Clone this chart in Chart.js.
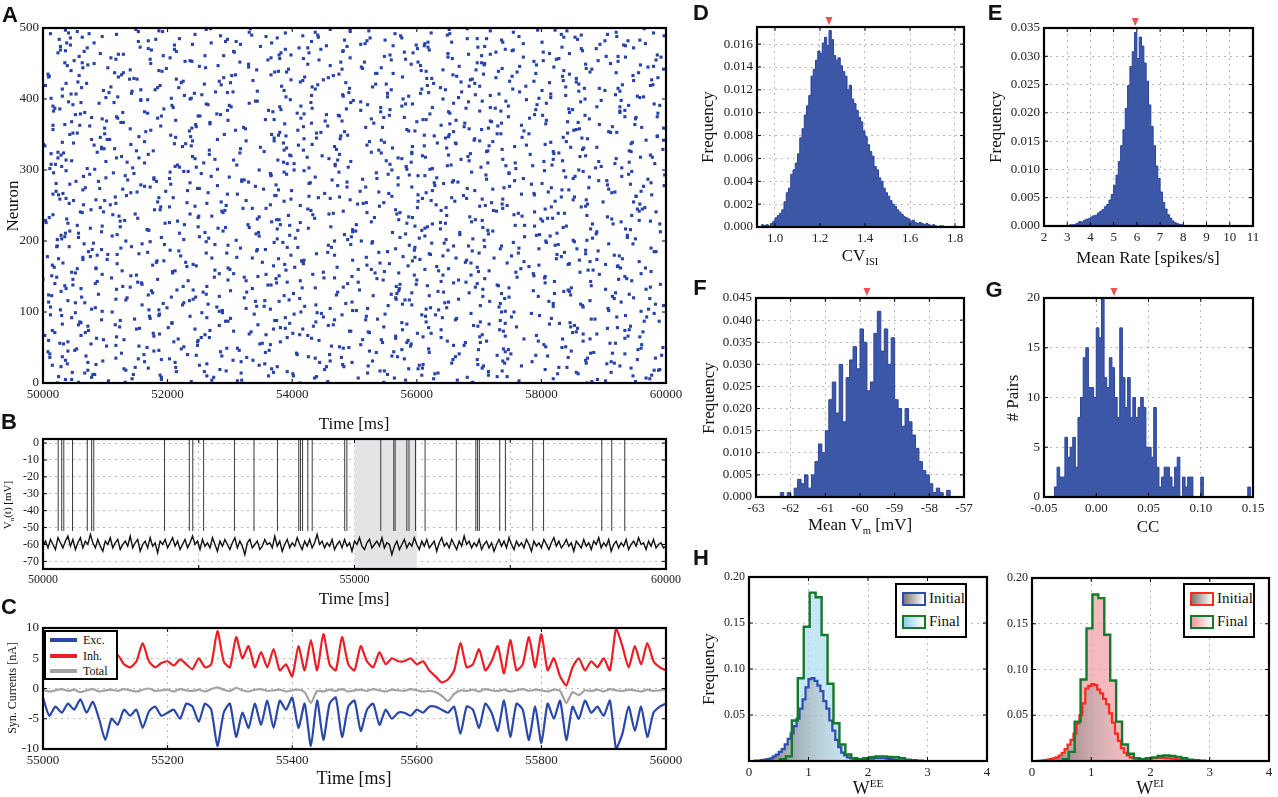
<!DOCTYPE html>
<html>
<head>
<meta charset="utf-8">
<script src="https://cdn.jsdelivr.net/npm/chart.js@4.4.1/dist/chart.umd.min.js"></script>
<style>
body { margin: 0; background: #fff; }
#fig { position: relative; width: 1278px; height: 797px; overflow: hidden; font-family: 'Liberation Serif', 'DejaVu Serif', serif; color: #111; }
#fig canvas { position: absolute; }
.lbl { position: absolute; white-space: nowrap; transform: translate(-50%, -50%); line-height: 1; }
.rot { transform: translate(-50%, -50%) rotate(-90deg); }
.lbl sub, .lbl sup { font-size: 62%; }
.letter { position: absolute; font-family: 'Liberation Sans', 'DejaVu Sans', sans-serif; font-weight: bold; font-size: 22px; transform: translate(-50%, -50%); line-height: 1; }
.legend { position: absolute; border: 2px solid #000; background: #fff; box-sizing: border-box; }
.legend .sw { position: absolute; box-sizing: border-box; }
.legend .tx { position: absolute; white-space: nowrap; line-height: 1; }
</style>
</head>
<body>
<div id="fig"></div>
<script>
// ---- data ----

// A: raster, spikes per neuron row, in 10 ms bins after 50000 ms
const rasterStartMs = 50000;
const rasterBinMs = 10;
const rasterSpikeBins = [
[412,873],[57,690],[238,951],[764,105],[319,582],[890,46],[143,627],[506,968],[681,274],[25,439],
[947,362],[188,715],[553,80],[826,401],[67,634],[370,912],[715,259],[294,548],[981,133],[452,806],
[130,587],[609,944],[841,213],[376,29],[522,768],[15,347],[698,481],[263,905],[917,656],[444,72],
[785,318],[96,529],[337,871],[658,190],[203,746],[874,437],[479,11],[31,662],[560,287],[729,993],
[162,408],[934,751],[407,126],[620,884],[285,563],[848,40],[51,315],[576,699],[739,222],[312,960],
[995,491],[226,807],[463,154],[117,676],[804,365],[591,33],[352,919],[678,545],[40,248],[867,712],
[249,586],[513,97],[772,834],[86,431],[639,267],[958,610],[178,742],[425,3],[705,358],[331,889],
[601,177],[19,524],[856,963],[494,306],[268,73],[733,639],[150,417],[389,858],[922,201],[547,760],
[72,943],[691,458],[345,116],[813,584],[207,829],[576,61],[438,702],[965,293],[124,375],[662,518],
[880,147],[301,664],[46,389],[752,921],[519,236],[186,797],[630,12],[403,549],[981,687],[255,440],
[111,756],[742,283],[497,908],[28,170],[365,615],[907,461],[622,84],[279,732],[819,355],[554,996],
[438,224],[863,577],[193,819],[645,52],[9,496],[717,341],[356,878],[588,133],[241,667],[974,412],
[323,948],[62,245],[795,706],[530,387],[169,9],[941,559],[402,821],[684,176],[257,473],[836,634],
[571,301],[215,843],[903,118],[37,572],[748,416],[482,975],[128,263],[617,731],[366,48],[991,599],
[84,697],[659,158],[392,506],[821,879],[233,326],[546,667],[0,184],[709,937],[468,451],[275,22],
[934,806],[141,379],[596,642],[358,95],[787,283],[52,533],[450,862],[699,208],[212,716],[875,390],
[506,613],[767,55],[297,927],[18,404],[632,780],[923,246],[176,520],[388,843],[845,119],[541,687],
[229,352],[957,772],[415,194],[680,497],[103,889],[824,25],[336,663],[597,311],[7,578],[752,925],
[468,87],[119,622],[871,439],[262,763],[539,168],[984,553],[343,891],[650,204],[79,357],[796,734],
[317,976],[597,409],[42,142],[736,683],[458,297],[195,827],[908,66],[624,528],[371,755],[853,262],
[133,468],[708,851],[489,23],[951,376],[266,604],[573,938],[35,251],[814,111],[396,792],[669,484],
[888,715],[219,57],[561,346],[94,889],[722,502],[409,170],[167,943],[935,638],[613,281],[293,835],
[462,124],[789,597],[55,773],[381,329],[915,882],[646,40],[203,413],[527,688],[975,216],[131,957],
[694,375],[344,799],[818,152],[10,532],[587,906],[250,271],[873,648],[433,16],[148,459],[763,827],
[520,573],[984,97],[287,728],[639,430],[77,188],[806,962],[358,336],[966,601],[189,864],[701,244],
[413,710],[65,365],[737,958],[514,117],[231,547],[899,286],[602,822],[326,49],[851,493],[27,738],
[680,609],[442,186],[116,853],[952,427],[374,675],[789,25],[16,312],[555,788],[265,141],[918,539],
[197,960],[625,399],[833,64],[354,722],[91,251],[740,876],[488,518],[964,163],[280,629],[570,906],
[43,205],[801,643],[429,976],[657,330],[182,89],[905,757],[323,464],[712,178],[536,851],[101,570],
[877,299],[270,854],[613,132],[998,588],[391,940],[146,365],[748,17],[475,688],[226,233],[836,805],
[347,560],[584,83],[71,759],[929,427],[490,219],[212,896],[786,649],[655,311],[13,469],[403,982],
[758,163],[135,591],[892,804],[551,46],[306,377],[671,738],[459,920],[24,118],[978,614],[240,862],
[609,448],[396,975],[169,267],[820,686],[543,33],[87,527],[712,819],[941,150],[267,387],[471,737],
[115,94],[868,561],[349,889],[593,224],[3,716],[776,410],[432,141],[211,944],[662,633],[946,31],
[524,840],[240,326],[996,692],[78,107],[693,477],[371,865],[835,213],[154,651],[478,986],[612,378],
[291,43],[735,780],[48,439],[446,921],[908,165],[597,587],[173,309],[856,704],[325,861],[715,99],
[961,518],[418,246],[189,730],[639,59],[35,950],[807,388],[531,677],[268,125],[720,842],[102,480],
[663,297],[357,610],[877,951],[120,414],[580,78],[986,747],[252,190],[474,870],[789,455],[60,279],
[408,653],[926,128],[163,542],[701,926],[296,362],[557,791],[844,27],[19,679],[625,209],[380,889],
[747,414],[207,990],[521,265],[981,593],[90,808],[430,61],[683,510],[344,743],[896,157],[157,397],
[578,870],[13,238],[815,667],[390,120],[954,482],[227,718],[481,919],[732,45],[142,553],[619,296],
[305,765],[860,344],[97,902],[646,180],[437,608],[893,869],[184,62],[529,432],[775,701],[4,975],
[930,286],[259,551],[693,37],[486,813],[56,671],[749,225],[337,948],[977,450],[214,139],[616,624],
[458,987],[121,420],[834,753],[303,58],[658,309],[8,845],[562,534],[920,115],[391,761],[731,378],
[186,607],[642,140],[394,881],[872,513],[104,261],[511,971],[765,668],[281,39],[959,792],[425,330],
[709,82],[35,704],[602,478],[239,923],[891,236],[443,559],[117,824],[828,380],[366,109],[992,650],
[548,923],[290,193],[986,398],[129,718],[650,845],[382,24],[803,580],[66,306],[482,753],[755,174],
[211,446],[864,888],[411,71],[698,618],[28,349],[562,935],[932,211],[240,510],[613,771],[367,38],
[801,656],[153,310],[520,939],[958,484],[296,181],[681,712],[44,576],[442,836],[764,95],[574,417],
[335,864],[906,244],[74,653],[623,980],[437,331],[192,55],[841,523],[493,794],[262,149],[965,681]
];
// one more spike per neuron (index = neuron)
const rasterExtraA = [
688,132,457,903,271,36,819,564,190,745,402,977,83,629,318,856,214,541,72,990,367,705,148,483,926,
251,610,39,872,496,163,738,305,954,580,117,843,426,69,791,232,668,914,357,8,524,186,747,619,295,
833,476,102,659,961,348,27,584,210,795,443,130,878,566,254,701,939,61,412,187,623,850,334,492,15,
577,244,906,381,123,698,853,466,31,742,207,615,989,372,94,537,816,263,450,171,935,608,339,784,52,
414,960,288,635,78,521,199,867,343,702,159,983,486,226,651,812,40,395,567,917,135,748,283,620,471,
89,736,592,327,845,174,508,968,61,437,694,225,880,361,573,19,806,152,639,413,297,924,536,110,761,
345,14,687,433,960,208,759,548,127,883,300,651,85,472,922,370,796,241,556,32,678,417,183,861,605,
930,271,519,76,642,398,825,154,700,457,981,218,596,344,857,125,463,709,23,588,276,947,644,385,172,
511,873,226,690,405,57,773,347,938,119,582,825,260,497,43,714,168,879,426,331,617,95,758,503,990,
196,638,367,802,4,571,913,436,249,685,122,394,756,568,837,289,60,482,723,179,954,321,647,816,540,
745,108,874,263,519,948,387,623,85,705,461,209,832,560,134,977,296,452,615,811,21,693,378,908,248,
68,592,341,997,157,784,427,236,666,53,892,319,513,771,178,437,929,602,366,75,748,535,204,867,419,
860,280,625,144,703,30,469,817,557,392,258,941,101,684,473,819,244,570,959,126,398,651,782,13,316,
592,944,177,418,866,317,648,94,757,238,520,1,663,386,815,163,701,543,280,874,439,92,986,628,205,
367,729,55,911,484,235,852,584,140,996,322,676,457,16,893,268,736,129,600,453,808,371,527,184,952,
118,476,802,285,621,987,67,369,735,510,850,194,432,718,302,576,940,48,262,659,114,863,341,498,776,
642,206,958,553,31,431,694,815,243,106,672,926,387,157,754,492,218,839,383,617,979,534,70,301,856,
283,835,398,689,146,727,577,10,947,366,475,791,129,878,615,45,343,996,198,543,820,251,461,708,591,
911,63,516,228,803,361,172,657,493,771,904,260,557,683,92,427,727,214,866,28,389,601,948,156,709,
455,599,317,967,82,618,293,902,736,26,219,525,854,358,997,649,118,565,41,755,493,186,822,652,333];
// and one more (index = neuron)
const rasterExtraB = [
23,547,881,312,665,190,974,436,78,729,263,608,145,859,521,47,392,737,988,284,602,169,828,455,707,
604,85,356,741,212,912,461,36,697,153,983,327,569,810,246,460,11,879,535,742,178,363,955,54,482,
167,839,590,248,510,77,910,702,381,649,9,543,217,934,392,118,566,792,260,867,401,68,522,739,934,
941,370,155,619,847,434,283,57,716,396,846,59,297,734,468,886,172,641,969,614,30,480,187,447,288,
736,95,503,186,972,326,648,12,420,866,592,265,734,67,928,379,235,581,117,741,566,206,914,14,847,
262,568,919,643,29,787,241,706,336,848,140,567,35,729,159,489,375,679,87,945,600,48,374,805,323,
496,788,150,893,306,571,46,976,635,276,527,85,967,697,231,586,15,903,418,745,182,878,593,419,64,
378,724,64,832,221,917,104,620,295,837,73,689,871,94,566,764,392,22,659,822,494,159,81,808,529,
807,310,647,30,882,190,495,613,29,797,342,36,669,991,289,608,497,376,76,706,249,840,396,227,625,
584,5,928,124,705,379,38,810,593,347,769,945,112,236,466,63,789,957,292,566,425,738,92,203,871,
294,631,505,42,720,184,661,99,872,398,37,656,476,952,372,602,768,32,913,151,509,232,844,128,681,
816,172,749,473,374,943,21,628,488,319,659,136,971,203,632,839,65,366,711,554,254,113,387,945,37,
403,621,11,887,246,583,743,216,20,918,714,386,494,834,37,276,576,154,424,682,871,29,476,592,828,
24,355,714,539,995,98,391,847,468,612,82,806,229,49,548,722,371,968,103,419,646,769,237,390,489,
652,99,842,380,659,772,409,16,684,239,545,914,75,768,245,653,431,859,46,718,213,615,95,781,547,
934,249,556,52,419,168,845,651,17,934,382,487,726,542,926,16,299,793,582,331,494,41,705,928,168,
236,796,101,964,587,839,255,53,606,491,277,143,801,559,31,923,638,109,684,188,441,860,627,222,413,
788,417,686,151,856,290,9,664,466,126,707,536,956,372,191,836,695,480,737,64,330,980,606,72,871,
173,697,316,788,50,984,582,418,204,935,58,704,379,121,813,594,307,481,36,620,742,169,425,833,488,
612,44,894,517,270,738,431,169,549,858,697,376,63,921,285,441,832,12,389,920,153,718,36,461,269];
const rasterXTicks = [50000, 52000, 54000, 56000, 58000, 60000];
const rasterYTicks = [0, 100, 200, 300, 400, 500];

// B: membrane potential, one sample every 40 ms from 50000 ms
const vmStartMs = 50000;
const vmStepMs = 40;
const vmTrace = [
-61,-58,-62,-57,-60,-63,-56,-59,-62,-58,
-55,-61,-57,-63,-59,-56,-62,-58,-60,-54,
-59,-62,-57,-61,-64,-58,-60,-56,-62,-59,
-57,-63,-60,-58,-61,-55,-62,-59,-57,-64,
-60,-58,-62,-56,-61,-59,-65,-58,-60,-57,
-62,-59,-56,-61,-58,-63,-60,-57,-62,-59,
-55,-60,-58,-63,-57,-61,-59,-62,-56,-60,
-64,-58,-61,-57,-60,-63,-59,-56,-62,-58,
-61,-66,-59,-57,-62,-60,-58,-63,-61,-57,
-60,-59,-62,-55,-61,-58,-64,-60,-57,-62,
-59,-61,-56,-60,-63,-58,-61,-57,-62,-59,
-54,-60,-58,-62,-59,-61,-57,-63,-60,-58,
-62,-57,-61,-59,-64,-58,-60,-56,-61,-63,
-59,-57,-62,-60,-58,-61,-56,-62,-59,-60,
-66,-61,-58,-63,-60,-57,-62,-59,-61,-56,
-60,-63,-58,-61,-57,-62,-60,-58,-64,-59,
-56,-61,-59,-62,-57,-60,-63,-58,-61,-55,
-60,-58,-62,-59,-61,-57,-63,-60,-58,-62,
-59,-64,-60,-57,-61,-58,-62,-56,-60,-63,
-58,-61,-59,-62,-57,-60,-64,-58,-61,-59,
-62,-57,-60,-63,-59,-56,-61,-58,-62,-60,
-57,-61,-59,-64,-58,-60,-62,-57,-61,-59,
-63,-58,-60,-56,-62,-59,-61,-57,-64,-60,
-58,-62,-59,-61,-57,-63,-60,-58,-61,-56,
-60,-59,-63,-58,-61,-57,-62,-60,-59,-62,
-61
];
const spikeTimes = [50244,50300,50334,50474,50711,50781,50815,51951,52349,52404,52578,53073,53387,53763,
  54105,54133,54167,54251,54321,54843,54878,55422,55631,55652,55840,55875,55979,56133,56634,56948,56976,
  57004,57331,57422,57861,58035,58969,59129,59338];
const spikeFrom = -52;
const spikeTo = 2.5;
const shadeRange = [55000, 56000];
const vmXTicks = [50000, 52500, 55000, 57500, 60000];
const vmYTicks = [0, -10, -20, -30, -40, -50, -60, -70];

// C: synaptic currents, one sample every 10 ms from 55000 ms
const currentStartMs = 55000;
const currentStepMs = 10;
const currentNames = ['Exc.', 'Inh.', 'Total'];
const excCurrent = [
-1.5,-4.5,-3,-4,-2.5,-3.5,-1.8,-4,-2.2,-5,
-8.5,-5,-6,-3.5,-4.5,-3.5,-6.5,-3.8,-3,-4.5,
-4,-3.5,-5,-2.5,-3,-5.5,-2.5,-3.5,-9.5,-4,
-2.5,-8,-4,-6.5,-2.5,-6,-2,-6.5,-2,-3.5,
-1.5,-6.5,-2.5,-9.5,-2,-8.5,-2.5,-1.5,-8,-3,
-2,-7,-3.5,-2.5,-6,-3.5,-5,-4,-4,-4.5,
-3.5,-4,-3,-3,-3.5,-4,-3,-7.5,-3,-3.5,
-6.5,-2.5,-4,-7,-2,-8,-2.5,-3.5,-8.5,-3,
-9,-2.5,-5,-2,-8.5,-3,-5,-2,-4,-3,
-4.5,-2,-10,-7.5,-3,-7,-3,-8,-4,-3,
-2.5];
const inhCurrent = [
3.5,4,3.5,4.5,3.8,4.2,3.2,4.5,3.8,4,
3,3.5,5.5,4,3.5,4.5,7.5,4.5,3.5,4.2,
4.5,3.8,4.8,4,3.2,5,3.5,4,9.5,4.5,
3.5,8.5,5,7,3.5,6,3.5,6.5,3,4,
2,7,3,8,3,9,4,3,8.5,4,
3,7,4.5,3.5,6,4,5,4.5,4.5,5,
4,4.5,3,2,1,1.5,3,7.5,3.5,4,
6.5,3,4.5,7,2.5,8,3,4,8.5,3.5,
9,3,5,2,0.5,3.5,5,3,4.5,3.5,
5,3,10,7,3.5,7,4,7.5,4.5,3.5,
3];
const totalCurrent = [
-0.2,-0.5,-0.3,-0.1,-0.4,-0.2,-0.6,-0.3,-0.1,-0.5,
-0.3,-0.2,-0.4,-0.1,-0.3,-0.5,-0.2,0,-0.4,-0.3,
-0.2,-0.5,-0.1,-0.3,-0.4,-0.2,-0.5,-0.1,0.2,-0.2,
-0.4,0.1,-0.3,-0.5,-0.2,-0.1,-0.4,-0.3,-0.2,-0.5,
-0.3,-0.2,-0.6,-2.4,-0.4,-0.5,-0.2,-0.4,-0.1,-0.5,
-0.3,-0.2,-0.4,-0.1,-0.3,-0.5,-0.2,-0.3,-0.4,-0.1,
-0.3,-0.5,-0.4,-0.6,-1.2,-2.1,-0.9,-0.3,-0.4,-0.2,
-0.5,-0.1,-0.3,-0.4,-0.2,-0.5,-0.3,-0.1,-0.4,-0.2,
-0.3,-0.5,-0.2,-0.4,-2.4,-0.6,-1.1,-0.3,-0.4,-0.2,
-0.5,-0.1,-0.3,-0.4,-0.2,-0.3,-0.5,-0.2,-0.4,-0.3,
-0.2];
const currentXTicks = [55000, 55200, 55400, 55600, 55800, 56000];
const currentYTicks = [-10, -5, 0, 5, 10];

// D: CV of ISI histogram (bins of 0.01 from 0.92)
const cvBinStart = 0.92;
const cvBinWidth = 0.01;
const cvFreq = [
0,0,0.0002,0.0001,0.0002,0.0001,0.0003,0.0005,
0.0008,0.0010,0.0012,0.0015,0.0022,0.0030,0.0034,0.0046,0.0050,0.0056,
0.0064,0.0078,0.0086,0.0098,0.0106,0.0115,0.0132,0.0138,0.0146,0.0154,
0.0152,0.0161,0.0166,0.0159,0.0172,0.0164,0.0150,0.0146,0.0148,0.0141,
0.0136,0.0132,0.0120,0.0124,0.0112,0.0108,0.0102,0.0096,0.0092,0.0084,
0.0079,0.0072,0.0066,0.0062,0.0053,0.0050,0.0043,0.0040,0.0034,0.0030,
0.0027,0.0023,0.0020,0.0018,0.0015,0.0013,0.0011,0.0009,0.0008,0.0007,
0.0005,0.0006,0.0004,0.0003,0.0004,0.0003,0.0002,0.0003,0.0002,0.0001,
0.0002,0.0001,0,0.0001,0.0001,0];
const cvMean = 1.24;
const cvXTicks = [1.0, 1.2, 1.4, 1.6, 1.8];
const cvYTicks = [0, 0.002, 0.004, 0.006, 0.008, 0.010, 0.012, 0.014, 0.016];

// E: mean rate histogram (bins of 0.1 from 3.0)
const rateBinStart = 3.0;
const rateBinWidth = 0.1;
const rateFreq = [
0.0001,0.0002,0.0002,0.0003,0.0005,0.0008,0.0007,0.0010,0.0012,0.0013,
0.0016,0.0018,0.0019,0.0023,0.0026,0.0029,0.0034,0.0038,0.0046,0.0056,
0.0072,0.0090,0.0114,0.0142,0.0170,0.0208,0.0248,0.0282,0.0308,0.0342,
0.0296,0.0334,0.0318,0.0288,0.0256,0.0214,0.0176,0.0142,0.0106,0.0084,
0.0060,0.0042,0.0030,0.0020,0.0014,0.0009,0.0006,0.0004,0.0003,0.0002,
0.0001,0.0001,0.0001,0];
const rateMean = 5.93;
const rateXTicks = [2, 3, 4, 5, 6, 7, 8, 9, 10, 11];
const rateYTicks = [0, 0.005, 0.010, 0.015, 0.020, 0.025, 0.030, 0.035];

// F: mean Vm histogram (bins of 0.1 from -62.3)
const vmBinStart = -62.3;
const vmBinWidth = 0.1;
const vmFreq = [
0.001,0,0.001,0,0.002,0.004,0.003,0.005,0.002,0.005,
0.008,0.012,0.010,0.015,0.022,0.026,0.019,0.030,0.017,0.027,
0.031,0.034,0.029,0.038,0.035,0.024,0.026,0.037,0.042,0.033,
0.038,0.030,0.036,0.022,0.020,0.016,0.020,0.017,0.014,0.011,
0.008,0.006,0.005,0.003,0.001,0.002,0.001,0,0.0015,0];
const vmMean = -59.8;
const vmHistXTicks = [-63, -62, -61, -60, -59, -58, -57];
const vmHistYTicks = [0, 0.005, 0.010, 0.015, 0.020, 0.025, 0.030, 0.035, 0.040, 0.045];

// G: correlation coefficient histogram (bins of 0.0025 from -0.05)
const ccBinStart = -0.05;
const ccBinWidth = 0.0025;
const ccPairs = [
0,0,0,0,
1,3,2,2,6,4,5,6,3,8,
10,14,15,11,11,10,17,16,20,12,
11,14,13,10,8,17,12,9,12,8,
10,8,9,10,9,5,5,4,9,3,
1,2,3,3,2,1,3,4,0,2,
1,2,2,0,0,0,2,0,0,0,
0,0,0,0,0,0,0,0,0,0,
0,0,0,0,1,0];
const ccMean = 0.017;
const ccXTicks = [-0.05, 0.00, 0.05, 0.10, 0.15];
const ccYTicks = [0, 5, 10, 15, 20];

// H: weight distributions
const initBinStart = 0.1;
const initBinWidth = 0.05;
const finalBinStart = 0.52;
const finalBinWidth = 0.1;
const eeInitial = [
0.0003,0.0005,0.001,0.0015,0.002,0.003,0.005,0.007,0.010,0.013,
0.018,0.024,0.030,0.038,0.046,0.057,0.067,0.080,0.089,0.090,
0.087,0.082,0.076,0.065,0.057,0.044,0.033,0.023,0.015,0.009,
0.006,0.004,0.003,0.0025,0.002,0.002,0.002,0.002,0.0025,0.0025,
0.003,0.003,0.003,0.003,0.0025,0.002,0.0015,0.001,0.0008,0.0005,
0.0003,0.0002,0.0001,0];
const eeFinal = [0.002,0.005,0.044,0.090,0.146,0.183,0.178,0.137,0.084,0.041,0.018,0.007,
  0.003,0.002,0.003,0.004,0.005,0.005,0.0045,0.004,0.003,0.0015,0.0008,0.0003];
const eiInitial = [
0.0003,0.0005,0.001,0.0015,0.002,0.003,0.004,0.006,0.009,0.013,
0.018,0.023,0.030,0.041,0.050,0.063,0.079,0.082,0.084,0.083,
0.078,0.074,0.068,0.062,0.052,0.042,0.030,0.022,0.014,0.009,
0.006,0.004,0.003,0.0025,0.002,0.002,0.002,0.0025,0.003,0.003,
0.0035,0.0035,0.0035,0.003,0.003,0.0025,0.002,0.0015,0.001,0.0007,
0.0004,0.0002,0.0001,0];
const eiFinal = [0.002,0.010,0.043,0.089,0.145,0.182,0.178,0.138,0.088,0.043,0.018,0.008,
  0.003,0.002,0.003,0.004,0.0055,0.006,0.0055,0.0045,0.003,0.0015,0.0008,0.0003];
const weightXTicks = [0, 1, 2, 3, 4];
const weightYTicks = [0.05, 0.10, 0.15, 0.20];
const weightNames = ['Initial', 'Final'];

// ---- setup ----

Chart.defaults.font.family = "'Liberation Serif', 'DejaVu Serif', serif";
Chart.defaults.font.size = 13;
Chart.defaults.color = '#222';
Chart.defaults.animation = false;
Chart.defaults.plugins.legend.display = false;
Chart.defaults.plugins.tooltip.enabled = false;

const fig = document.getElementById('fig');

// frame, inward ticks, shaded band and mean marker, matplotlib-ish
const framePlugin = {
    id: 'frame',
    beforeDatasetsDraw(chart, args, opts) {
        if (!opts.band) return;
        const a = chart.chartArea, x = chart.scales.x;
        const x1 = x.getPixelForValue(opts.band[0]);
        const x2 = x.getPixelForValue(opts.band[1]);
        chart.ctx.save();
        chart.ctx.fillStyle = '#e3e4e6';
        chart.ctx.fillRect(x1, a.top, x2 - x1, a.bottom - a.top);
        chart.ctx.restore();
    },
    afterDraw(chart, args, opts) {
        const ctx = chart.ctx, a = chart.chartArea;
        const x = chart.scales.x, y = chart.scales.y;
        ctx.save();
        ctx.strokeStyle = '#000';
        ctx.lineWidth = 1;
        ctx.beginPath();
        x.ticks.forEach(t => {
            const p = x.getPixelForValue(t.value);
            ctx.moveTo(p, a.bottom); ctx.lineTo(p, a.bottom - 4);
            ctx.moveTo(p, a.top); ctx.lineTo(p, a.top + 4);
        });
        y.ticks.forEach(t => {
            const p = y.getPixelForValue(t.value);
            ctx.moveTo(a.left, p); ctx.lineTo(a.left + 4, p);
            ctx.moveTo(a.right, p); ctx.lineTo(a.right - 4, p);
        });
        ctx.stroke();
        ctx.lineWidth = 2.2;
        ctx.strokeRect(a.left, a.top, a.right - a.left, a.bottom - a.top);
        if (opts.marker !== undefined) {
            const m = x.getPixelForValue(opts.marker);
            ctx.fillStyle = '#f0504f';
            ctx.beginPath();
            ctx.moveTo(m - 3.5, a.top - 10);
            ctx.lineTo(m + 3.5, a.top - 10);
            ctx.lineTo(m, a.top - 2);
            ctx.closePath();
            ctx.fill();
        }
        ctx.restore();
    }
};

function axis(min, max, tickValues, fmt, opts) {
    opts = opts || {};
    return {
        type: 'linear', min: min, max: max,
        grid: {display: opts.grid !== false, color: '#b9b9b9', lineWidth: 1, drawTicks: false},
        border: {display: false, dash: [2, 4]},
        ticks: {padding: opts.padding || 4, color: '#222', font: {size: opts.size || 13},
            maxRotation: 0, autoSkip: false, callback: fmt},
        afterBuildTicks: s => { s.ticks = tickValues.map(v => ({value: v})); }
    };
}

// rect = [left, top, right, bottom] of the plot area on the page
function makeChart(rect, pad, config) {
    const c = document.createElement('canvas');
    const w = rect[2] - rect[0] + pad.l + pad.r;
    const h = rect[3] - rect[1] + pad.t + pad.b;
    c.width = w; c.height = h;
    c.style.left = (rect[0] - pad.l) + 'px';
    c.style.top = (rect[1] - pad.t) + 'px';
    c.style.width = w + 'px';
    c.style.height = h + 'px';
    fig.appendChild(c);
    const o = config.options;
    o.responsive = false;
    o.maintainAspectRatio = false;
    o.layout = {padding: {top: pad.t, right: pad.r, left: 0, bottom: 0}};
    o.scales.x.afterFit = s => { s.height = pad.b; s.paddingLeft = 0; s.paddingRight = 0; };
    o.scales.y.afterFit = s => { s.width = pad.l; s.paddingTop = 0; s.paddingBottom = 0; };
    config.plugins = [framePlugin];
    return new Chart(c, config);
}

function label(html, x, y, size, cls) {
    const d = document.createElement('div');
    d.className = 'lbl' + (cls ? ' ' + cls : '');
    d.style.left = x + 'px';
    d.style.top = y + 'px';
    d.style.fontSize = size + 'px';
    d.innerHTML = html;
    fig.appendChild(d);
}

function letter(t, x, y) {
    const d = document.createElement('div');
    d.className = 'letter';
    d.style.left = x + 'px';
    d.style.top = y + 'px';
    d.textContent = t;
    fig.appendChild(d);
}

// step outline of a histogram, closed down to zero at both ends
function histPoints(start, width, values) {
    const pts = [{x: start, y: 0}];
    values.forEach((v, i) => pts.push({x: start + i * width, y: v}));
    const end = start + values.length * width;
    pts.push({x: end, y: values[values.length - 1]});
    pts.push({x: end, y: 0});
    return pts;
}

function seriesPoints(start, step, values) {
    return values.map((v, i) => ({x: start + i * step, y: v}));
}

const fmtFixed = n => (v => v.toFixed(n));
const fmtInt = v => String(v);

// ---- A: raster ----
const rasterPoints = [];
rasterSpikeBins.forEach((bins, neuron) => {
    bins.forEach(b => rasterPoints.push({x: rasterStartMs + b * rasterBinMs, y: neuron}));
});
[rasterExtraA, rasterExtraB].forEach(list => {
    list.forEach((b, neuron) => rasterPoints.push({x: rasterStartMs + b * rasterBinMs, y: neuron}));
});

makeChart([43, 28, 666, 383], {l: 45, r: 22, t: 8, b: 24}, {
    type: 'scatter',
    data: {datasets: [{data: rasterPoints, pointStyle: 'rect', pointRadius: 2.2,
        backgroundColor: '#2742a8', borderWidth: 0}]},
    options: {
        plugins: {frame: {}},
        scales: {
            x: axis(50000, 60000, rasterXTicks, fmtInt, {grid: false}),
            y: axis(0, 500, rasterYTicks, fmtInt, {grid: false})
        }
    }
});

// ---- B: membrane potential ----
const spikeLines = [];
spikeTimes.forEach(t => {
    spikeLines.push({x: t, y: spikeFrom}, {x: t, y: spikeTo}, {x: t, y: null});
});

makeChart([43, 439, 666, 569], {l: 45, r: 22, t: 8, b: 20}, {
    type: 'line',
    data: {datasets: [
        {data: spikeLines, borderColor: '#3a3a3a', borderWidth: 1, pointRadius: 0, spanGaps: false},
        {data: seriesPoints(vmStartMs, vmStepMs, vmTrace), borderColor: '#111', borderWidth: 1.4, pointRadius: 0}
    ]},
    options: {
        plugins: {frame: {band: shadeRange}},
        scales: {
            x: axis(50000, 60000, vmXTicks, v => (v % 5000 === 0 ? String(v) : ''), {size: 12}),
            y: axis(-74.5, 2.4, vmYTicks, fmtInt, {size: 12})
        }
    }
});

// ---- C: synaptic currents ----
const currentColors = ['#2a48aa', '#ee1d24', '#a3a3a3'];
makeChart([43, 628, 666, 749], {l: 45, r: 22, t: 8, b: 20}, {
    type: 'line',
    data: {datasets: [
        {data: seriesPoints(currentStartMs, currentStepMs, totalCurrent), borderColor: currentColors[2], borderWidth: 2.2, pointRadius: 0, tension: 0.2},
        {data: seriesPoints(currentStartMs, currentStepMs, excCurrent), borderColor: currentColors[0], borderWidth: 2.2, pointRadius: 0, tension: 0.2},
        {data: seriesPoints(currentStartMs, currentStepMs, inhCurrent), borderColor: currentColors[1], borderWidth: 2.2, pointRadius: 0, tension: 0.2}
    ]},
    options: {
        plugins: {frame: {}},
        scales: {
            x: axis(55000, 56000, currentXTicks, fmtInt),
            y: axis(-10, 10, currentYTicks, fmtInt)
        }
    }
});

// legend for C
(function () {
    const box = document.createElement('div');
    box.className = 'legend';
    box.style.cssText = 'left:44px;top:630px;width:74px;height:50px;';
    currentNames.forEach((name, i) => {
        const sw = document.createElement('div');
        sw.className = 'sw';
        sw.style.cssText = 'left:4px;top:' + (6 + i * 15.5) + 'px;width:27px;height:4px;background:' + currentColors[i] + ';';
        const tx = document.createElement('div');
        tx.className = 'tx';
        tx.style.cssText = 'left:37px;top:' + (2 + i * 15.5) + 'px;font-size:12px;';
        tx.textContent = name;
        box.appendChild(sw);
        box.appendChild(tx);
    });
    fig.appendChild(box);
})();

// ---- D-G: filled histograms ----
const histFill = '#3d57a7';
const histLine = '#2b439e';

function histChart(rect, points, xr, xt, xf, yr, yt, yf, marker) {
    return makeChart(rect, {l: 52, r: 12, t: 15, b: 20}, {
        type: 'line',
        data: {datasets: [{data: points, stepped: 'before', fill: 'origin', backgroundColor: histFill,
            borderColor: histLine, borderWidth: 1, pointRadius: 0}]},
        options: {
            plugins: {frame: {marker: marker}},
            scales: {
                x: axis(xr[0], xr[1], xt, xf),
                y: axis(yr[0], yr[1], yt, yf)
            }
        }
    });
}

histChart([757, 27, 964, 227], histPoints(cvBinStart, cvBinWidth, cvFreq),
    [0.92, 1.84], cvXTicks, fmtFixed(1), [0, 0.0175], cvYTicks, fmtFixed(3), cvMean);
histChart([1044, 28, 1253, 226], histPoints(rateBinStart, rateBinWidth, rateFreq),
    [2, 11], rateXTicks, fmtInt, [0, 0.035], rateYTicks, fmtFixed(3), rateMean);
histChart([756, 298, 964, 497], histPoints(vmBinStart, vmBinWidth, vmFreq),
    [-63, -57], vmHistXTicks, fmtInt, [0, 0.045], vmHistYTicks, fmtFixed(3), vmMean);
histChart([1044, 298, 1253, 497], histPoints(ccBinStart, ccBinWidth, ccPairs),
    [-0.05, 0.15], ccXTicks, fmtFixed(2), [0, 20], ccYTicks, fmtInt, ccMean);

// ---- H: weight distributions ----
function greyFade(ctx) {
    const chart = ctx.chart;
    if (!chart.chartArea) return 'rgba(0,0,0,0)';
    const x = chart.scales.x;
    const g = chart.ctx.createLinearGradient(x.getPixelForValue(0.35), 0, x.getPixelForValue(1.7), 0);
    g.addColorStop(0, 'rgba(95,95,95,0.75)');
    g.addColorStop(1, 'rgba(200,200,200,0.05)');
    return g;
}

function weightChart(rect, initial, final, initColor, finalFill) {
    const finalPts = histPoints(finalBinStart, finalBinWidth, final);
    return makeChart(rect, {l: 45, r: 10, t: 8, b: 20}, {
        type: 'line',
        data: {datasets: [
            {data: finalPts, stepped: 'before', fill: false, borderColor: '#137a2c', borderWidth: 2.4, pointRadius: 0},
            {data: histPoints(initBinStart, initBinWidth, initial), stepped: 'before', fill: 'origin',
                backgroundColor: greyFade, borderColor: initColor, borderWidth: 2.2, pointRadius: 0},
            {data: finalPts, stepped: 'before', fill: 'origin', backgroundColor: finalFill, borderWidth: 0, pointRadius: 0}
        ]},
        options: {
            plugins: {frame: {}},
            scales: {
                x: axis(0, 4, weightXTicks, fmtInt),
                y: axis(0, 0.2, weightYTicks, fmtFixed(2), {size: 12})
            }
        }
    });
}

weightChart([749, 577, 987, 761], eeInitial, eeFinal, '#2d4cb0', 'rgba(178,222,242,0.75)');
weightChart([1032, 578, 1269, 761], eiInitial, eiFinal, '#ff2a1c', 'rgba(244,168,175,0.8)');

function weightLegend(left, top, initBorder, initGrad, finalGrad) {
    const box = document.createElement('div');
    box.className = 'legend';
    box.style.cssText = 'left:' + left + 'px;top:' + top + 'px;width:72px;height:55px;';
    const borders = [initBorder, '#137a2c'];
    const fills = [initGrad, finalGrad];
    weightNames.forEach((name, i) => {
        const sw = document.createElement('div');
        sw.className = 'sw';
        sw.style.cssText = 'left:5px;top:' + (7 + i * 23) + 'px;width:24px;height:14px;border:2.5px solid ' +
            borders[i] + ';background:' + fills[i] + ';';
        const tx = document.createElement('div');
        tx.className = 'tx';
        tx.style.cssText = 'left:32px;top:' + (6 + i * 23) + 'px;font-size:15px;';
        tx.textContent = name;
        box.appendChild(sw);
        box.appendChild(tx);
    });
    fig.appendChild(box);
}
weightLegend(895, 583, '#2d4cb0', 'linear-gradient(to right,#7a7a7a,#ffffff)', 'linear-gradient(to right,#8fcfe9,#ffffff)');
weightLegend(1183, 583, '#ff2a1c', 'linear-gradient(to right,#7a7a7a,#ffffff)', 'linear-gradient(to right,#f19aa2,#ffffff)');

// ---- axis titles and panel letters ----
label('Time [ms]', 354, 423, 17);
label('Neuron', 12, 206, 17, 'rot');
label('Time [ms]', 354, 598, 17);
label('V<sub>n</sub>(t) [mV]', 9, 505, 11, 'rot');
label('Time [ms]', 354, 778, 18);
label('Syn. Currents [nA]', 12, 688, 12, 'rot');
label('CV<sub>ISI</sub>', 860, 257, 17);
label('Frequency', 707, 127, 17, 'rot');
label('Mean Rate [spikes/s]', 1148, 257, 17);
label('Frequency', 995, 127, 17, 'rot');
label('Mean V<sub>m</sub> [mV]', 860, 526, 17);
label('Frequency', 708, 398, 17, 'rot');
label('CC', 1148, 526, 17);
label('# Pairs', 1012, 398, 17, 'rot');
label('W<sup>EE</sup>', 868, 787, 18);
label('W<sup>EI</sup>', 1150, 787, 18);
label('Frequency', 708, 669, 17, 'rot');

letter('A', 10, 15);
letter('B', 9, 422);
letter('C', 9, 607);
letter('D', 701, 13);
letter('E', 995, 13);
letter('F', 700, 288);
letter('G', 994, 290);
letter('H', 701, 558);
</script>
</body>
</html>
